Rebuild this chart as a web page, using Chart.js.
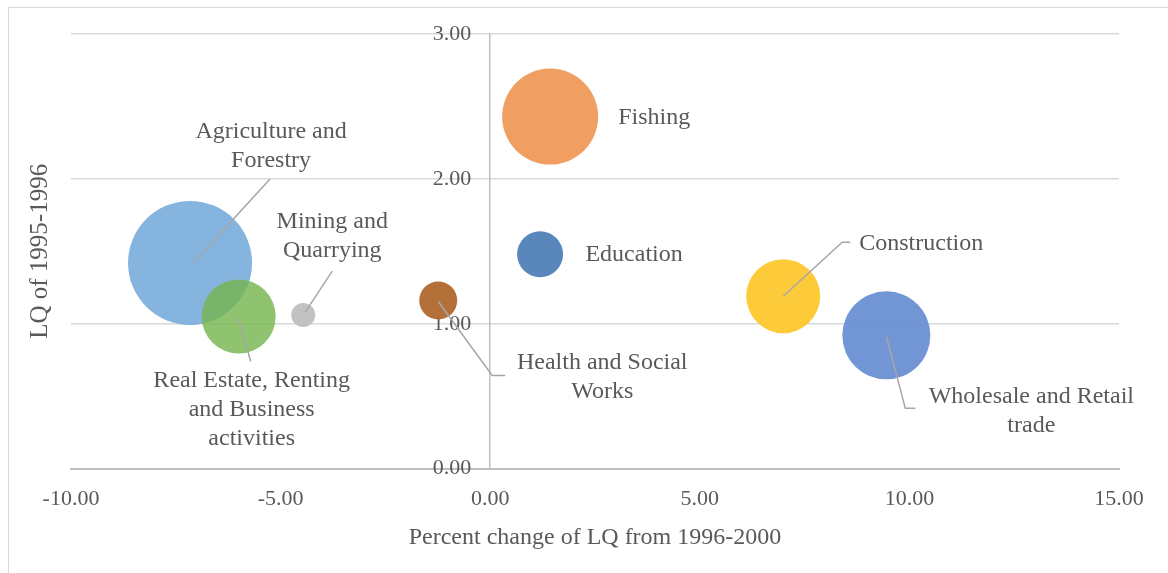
<!DOCTYPE html>
<html>
<head>
<meta charset="utf-8">
<script src="https://cdn.jsdelivr.net/npm/chart.js@4.4.1/dist/chart.umd.min.js"></script>
<style>
  html, body { margin: 0; padding: 0; background: #fff; }
  #wrap { position: relative; width: 1168px; height: 573px; }
</style>
</head>
<body>
<div id="wrap"><canvas id="lqChart"></canvas></div>
<script>
// ===== Data =====
const sectors = ['Agriculture and Forestry', 'Real Estate, Renting and Business activities',
                 'Mining and Quarrying', 'Health and Social Works', 'Fishing', 'Education',
                 'Construction', 'Wholesale and Retail trade'];
const pctChange = [-7.16, -6.00, -4.46, -1.24, 1.43, 1.19, 6.99, 9.45];   // x: % change of LQ 1996-2000
const lq9596    = [1.42, 1.05, 1.06, 1.16, 2.43, 1.48, 1.19, 0.92];        // y: LQ of 1995-1996
const bubbleR   = [62, 37, 12, 19, 48, 23, 37, 44];                        // bubble radius (px)
const xTicks = [-10, -5, 0, 5, 10, 15];
const yTicks = [0, 1, 2, 3];

const colors = ['rgba(123,174,220,0.92)', 'rgba(118,182,80,0.82)', 'rgba(191,191,191,0.95)',
                'rgba(176,104,46,0.95)', 'rgba(240,153,90,0.95)', 'rgba(80,129,184,0.95)',
                'rgba(253,200,47,0.95)', 'rgba(106,143,212,0.95)'];

// label layout: text lines, centre offset from bubble (px), alignment, leader path offsets
const labelStyle = [
  { lines: ['Agriculture and', 'Forestry'], dx: 81, dy: -117, align: 'center', leader: [[4, -1], [80, -84]] },
  { lines: ['Real Estate, Renting', 'and Business', 'activities'], dx: 13, dy: 93, align: 'center', leader: [[0, 2], [12, 45]] },
  { lines: ['Mining and', 'Quarrying'], dx: 29, dy: -79, align: 'center', leader: [[2, -3], [29, -44]] },
  { lines: ['Health and Social', 'Works'], dx: 164, dy: 77, align: 'center', leader: [[0, 1], [54, 75], [67, 75]] },
  { lines: ['Fishing'], dx: 68, dy: 1, align: 'left', leader: null },
  { lines: ['Education'], dx: 94, dy: 1, align: 'center', leader: null },
  { lines: ['Construction'], dx: 76, dy: -53, align: 'left', leader: [[0, 0], [59, -54], [67, -54]] },
  { lines: ['Wholesale and Retail', 'trade'], dx: 145, dy: 76, align: 'center', leader: [[0, 1], [19, 73], [29, 73]] }
];

const SERIF = '"Liberation Serif", "Times New Roman", serif';
const TEXT = '#595959';

// ===== Plugins =====
const frame = {
  id: 'frame',
  beforeDraw(chart) {
    const c = chart.ctx;
    c.save();
    c.strokeStyle = '#d9d9d9';
    c.lineWidth = 1;
    c.strokeRect(8.5, 7.5, 1200, 600);
    c.restore();
  }
};

// the y axis sits at x = 0, so push its labels away from the axis line
const yLabelGap = {
  id: 'yLabelGap',
  afterLayout(chart) {
    chart.scales.y.getLabelItems().forEach(it => { it.options.translation[0] -= 19; });
  }
};

// axis titles, placed relative to the plot area
const axisTitles = {
  id: 'axisTitles',
  afterDraw(chart) {
    const c = chart.ctx;
    const a = chart.chartArea;
    c.save();
    c.font = '24px ' + SERIF;
    c.fillStyle = TEXT;
    c.textAlign = 'center';
    c.textBaseline = 'middle';
    c.fillText('Percent change of LQ from 1996-2000', (a.left + a.right) / 2, a.bottom + 69);
    c.translate(40, (a.top + a.bottom) / 2);
    c.rotate(-Math.PI / 2);
    c.font = '25px ' + SERIF;
    c.fillText('LQ of 1995-1996', 0, 0);
    c.restore();
  }
};

const bubbleLabels = {
  id: 'bubbleLabels',
  afterDraw(chart) {
    const c = chart.ctx;
    const meta = chart.getDatasetMeta(0);
    c.save();
    meta.data.forEach((pt, i) => {
      const s = labelStyle[i];
      if (s.leader) {
        c.beginPath();
        s.leader.forEach(([ox, oy], k) => {
          if (k === 0) c.moveTo(pt.x + ox, pt.y + oy);
          else c.lineTo(pt.x + ox, pt.y + oy);
        });
        c.strokeStyle = '#a6a6a6';
        c.lineWidth = 1.5;
        c.stroke();
      }
      c.font = '24px ' + SERIF;
      c.fillStyle = TEXT;
      c.textAlign = s.align;
      c.textBaseline = 'middle';
      const lh = 29;
      const y0 = pt.y + s.dy - (s.lines.length - 1) * lh / 2;
      s.lines.forEach((t, k) => c.fillText(t, pt.x + s.dx, y0 + k * lh));
    });
    c.restore();
  }
};

// ===== Chart =====
const ctx = document.getElementById('lqChart').getContext('2d');
new Chart(ctx, {
  type: 'bubble',
  data: {
    labels: sectors,
    datasets: [{
      data: sectors.map((s, i) => ({ x: pctChange[i], y: lq9596[i], r: bubbleR[i] })),
      backgroundColor: colors,
      borderWidth: 0
    }]
  },
  options: {
    responsive: true,
    maintainAspectRatio: false,
    animation: false,
    layout: { autoPadding: false, padding: { left: 71, right: 49, top: 34, bottom: 52 } },
    plugins: { legend: { display: false }, tooltip: { enabled: false } },
    scales: {
      x: {
        type: 'linear',
        min: -10, max: 15,
        afterBuildTicks: s => { s.ticks = xTicks.map(v => ({ value: v })); },
        grid: { display: false },
        border: { display: true, color: '#bfbfbf', width: 2 },
        ticks: {
          padding: 9,
          color: TEXT,
          font: { family: SERIF, size: 22 },
          callback: v => v.toFixed(2)
        }
      },
      y: {
        type: 'linear',
        min: 0, max: 3,
        position: { x: 0 },
        z: 1,
        afterBuildTicks: s => { s.ticks = yTicks.map(v => ({ value: v })); },
        grid: { color: '#d9d9d9', lineWidth: 1.5, drawTicks: false },
        border: { display: true, color: '#bfbfbf', width: 1.5 },
        ticks: {
          color: TEXT,
          font: { family: SERIF, size: 22 },
          callback: v => v.toFixed(2)
        }
      }
    }
  },
  plugins: [frame, yLabelGap, axisTitles, bubbleLabels]
});
</script>
</body>
</html>
